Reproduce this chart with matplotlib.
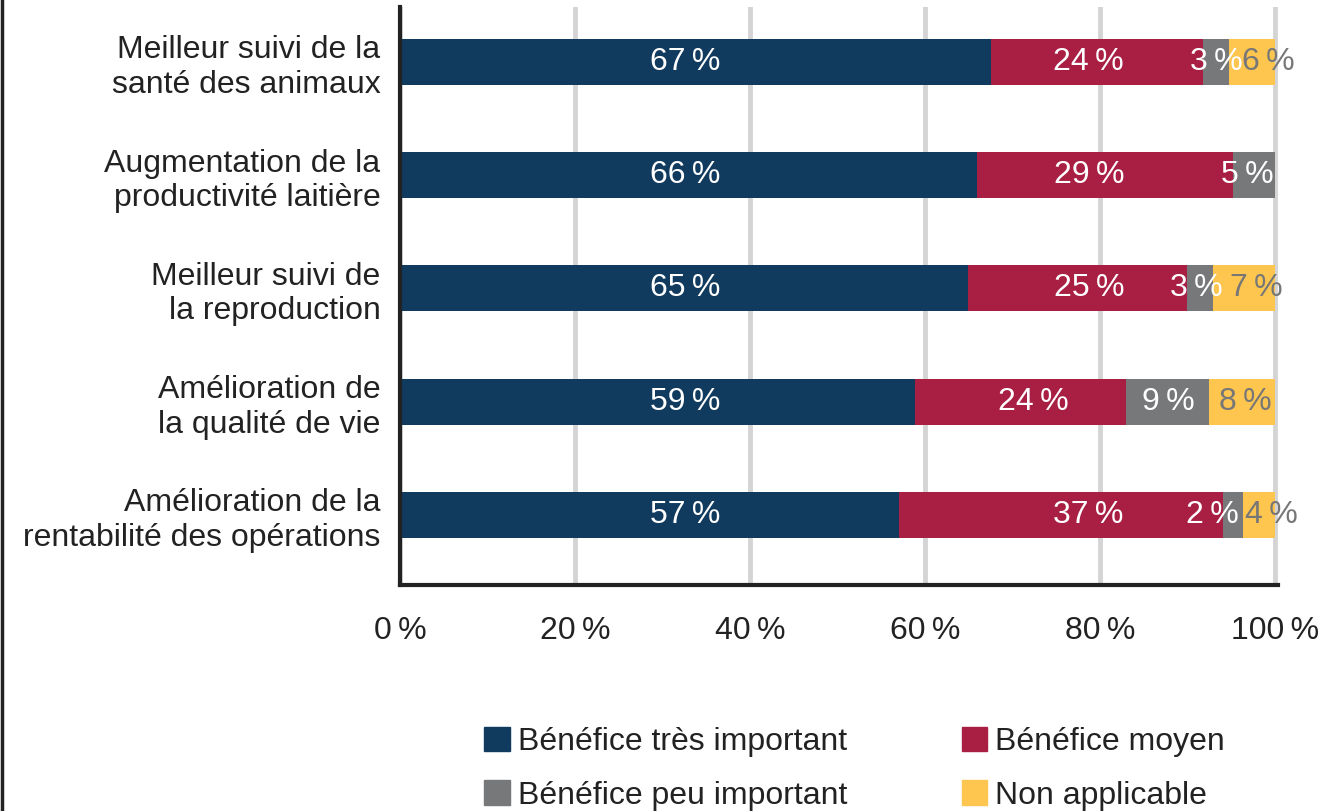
import matplotlib
matplotlib.use("Agg")
import matplotlib.pyplot as plt
from matplotlib.patches import Patch
from matplotlib.lines import Line2D
from matplotlib.ticker import FixedLocator

plt.rcParams['font.family'] = ['Liberation Sans', 'DejaVu Sans']

categories = [
    "Meilleur suivi de la\nsanté des animaux",
    "Augmentation de la\nproductivité laitière",
    "Meilleur suivi de\nla reproduction",
    "Amélioration de\nla qualité de vie",
    "Amélioration de la\nrentabilité des opérations",
]
series_names = ["Bénéfice très important", "Bénéfice moyen",
                "Bénéfice peu important", "Non applicable"]
tres_important = [67.5, 65.9, 64.9, 58.9, 57.0]
moyen = [24.3, 29.3, 25.0, 24.1, 37.1]
peu_important = [2.9, 4.8, 3.0, 9.4, 2.2]
non_applicable = [5.3, 0.0, 7.1, 7.6, 3.7]
labels_tres = ["67", "66", "65", "59", "57"]
labels_moyen = ["24", "29", "25", "24", "37"]
labels_peu = ["3", "5", "3", "9", "2"]
labels_non = ["6", "", "7", "8", "4"]
xticks = [0, 20, 40, 60, 80, 100]

colors = ["#103a5e", "#a91f44", "#77787a", "#fec64f"]
text_colors = ["white", "white", "white", "#777777"]
# label offsets from segment centre, in pixels: [row][series]
nudges = [
    [-10, -9, 0, 17],
    [-3, -16, -7, 0],
    [1, 12, -3, 12],
    [28, 12, 1, 4],
    [36, 27, -21, 13],
]

FS = 23
W, H = 1323, 811
fig = plt.figure(figsize=(W / 100, H / 100), dpi=100)
XMAX = 100.3
ax = fig.add_axes([400 / W, 1 - 585 / H, 875 * XMAX / 100 / W, (585 - 7) / H])

series = [tres_important, moyen, peu_important, non_applicable]
labels = [labels_tres, labels_moyen, labels_peu, labels_non]
ypos = list(range(len(categories)))
left = [0.0] * len(categories)
for s, (vals, labs) in enumerate(zip(series, labels)):
    ax.barh(ypos, vals, left=left, height=0.405, color=colors[s],
            label=series_names[s], zorder=3)
    for i, (v, l) in enumerate(zip(vals, labs)):
        if l:
            cx = left[i] + v / 2
            dx = nudges[i][s] * 0.72
            ax.annotate(l + "\u2009%", (cx, i), xytext=(dx, 0),
                        textcoords="offset points", ha="center", va="center",
                        color=text_colors[s], fontsize=FS, zorder=4)
    left = [a + b for a, b in zip(left, vals)]

ax.set_xlim(0, XMAX)
ax.set_ylim(4.62, -0.485)
ax.xaxis.set_major_locator(FixedLocator(xticks))
ax.set_xticklabels([f"{t}\u2009%" for t in xticks])
ax.set_yticks(ypos)
ax.set_yticklabels(categories)
ax.tick_params(axis="both", length=0, labelsize=FS, colors="#222222")
ax.tick_params(axis="x", pad=22)
ax.tick_params(axis="y", pad=14)
ax.grid(axis="x", color="#d4d4d4", linewidth=3.5, zorder=0)
ax.set_axisbelow(True)
for sp in ["top", "right"]:
    ax.spines[sp].set_visible(False)
for sp in ["left", "bottom"]:
    ax.spines[sp].set_linewidth(3)
    ax.spines[sp].set_color("#222222")
    ax.spines[sp].set_zorder(5)

handles = [Patch(color=c) for c in colors]
order = [0, 2, 1, 3]
leg = fig.legend([handles[i] for i in order], [series_names[i] for i in order],
                 ncol=2, frameon=False, fontsize=FS,
                 loc="upper left", bbox_to_anchor=(484 / W, 1 - 727 / H),
                 handlelength=0.8, handleheight=0.8, handletextpad=0.25,
                 columnspacing=3.6, labelspacing=0.72, borderpad=0,
                 borderaxespad=0)
for t in leg.get_texts():
    t.set_color("#222222")

fig.add_artist(Line2D([1.5 / W, 1.5 / W], [0, 1], color="#222222",
                      linewidth=2.5, transform=fig.transFigure))

fig.savefig("out.png", dpi=100)
